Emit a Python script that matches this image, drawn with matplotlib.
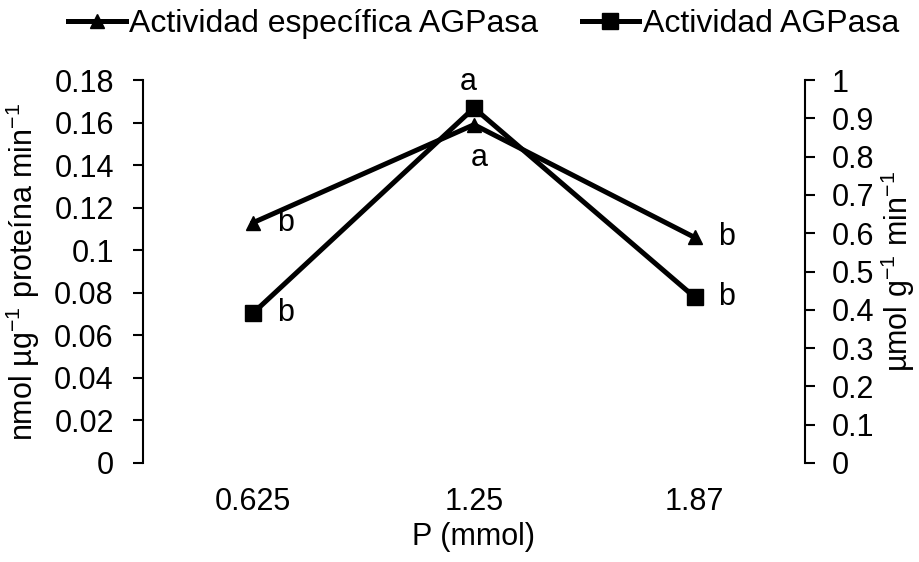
import matplotlib
matplotlib.use("Agg")
import matplotlib.pyplot as plt

plt.rcParams['font.family'] = ['Liberation Sans', 'DejaVu Sans']
plt.rcParams['mathtext.fontset'] = 'custom'
plt.rcParams['mathtext.rm'] = 'Liberation Sans'
plt.rcParams['mathtext.it'] = 'Liberation Sans:italic'
plt.rcParams['mathtext.bf'] = 'Liberation Sans:bold'
plt.rcParams['axes.unicode_minus'] = False

categories = ["0.625", "1.25", "1.87"]
specific_activity = [0.113, 0.159, 0.106]   # left axis, triangles
activity = [0.392, 0.927, 0.433]            # right axis, squares
spec_letters = ["b", "a", "b"]
act_letters = ["b", "a", "b"]
left_ticks = [0, 0.02, 0.04, 0.06, 0.08, 0.1, 0.12, 0.14, 0.16, 0.18]
right_ticks = [0, 0.1, 0.2, 0.3, 0.4, 0.5, 0.6, 0.7, 0.8, 0.9, 1]

FS = 22

fig = plt.figure(figsize=(9.2, 5.62), dpi=100)
ax = fig.add_axes([143/920, 1-463/562, 662/920, 383/562])
ax2 = ax.twinx()

x = list(range(len(categories)))
l1, = ax.plot(x, specific_activity, color='black', lw=3.6, marker='^', ms=10,
              label='Actividad específica AGPasa', zorder=3)
l2, = ax2.plot(x, activity, color='black', lw=3.6, marker='s', ms=11,
               label='Actividad AGPasa', zorder=3)

ax.set_xlim(-0.5, len(categories) - 0.5)
ax.set_ylim(0, 0.18)
ax2.set_ylim(0, 1)
ax.set_xticks(x)
ax.set_xticklabels(categories)
ax.set_yticks(left_ticks)
ax.set_yticklabels([f"{v:g}" for v in left_ticks])
ax2.set_yticks(right_ticks)
ax2.set_yticklabels([f"{v:g}" for v in right_ticks])

for a in (ax, ax2):
    for s in ('top', 'bottom'):
        a.spines[s].set_visible(False)
ax.spines['right'].set_visible(False)
ax2.spines['left'].set_visible(False)
ax.spines['left'].set_linewidth(1.5)
ax2.spines['right'].set_linewidth(1.5)

ax.tick_params(axis='y', direction='out', length=7, width=1.5, labelsize=FS, pad=14)
ax2.tick_params(axis='y', direction='out', length=7, width=1.5, labelsize=FS, pad=12)
ax.tick_params(axis='x', length=0, labelsize=FS, pad=17)

ax.set_xlabel('P (mmol)', fontsize=FS)
ax.xaxis.set_label_coords(0.5, -0.155)
ax.set_ylabel('nmol µg$^{-1}$ proteína min$^{-1}$', fontsize=FS)
ax.yaxis.set_label_coords(-0.153, 0.5)
ax2.set_ylabel('µmol g$^{-1}$ min$^{-1}$', fontsize=FS, rotation=90)
ax2.yaxis.set_label_coords(1.112, 0.5)

# significance letters
for i, (v, t) in enumerate(zip(specific_activity, spec_letters)):
    off = (4, -24) if i == 1 else (23, 0)
    ax.annotate(t, (i, v), xytext=off, textcoords='offset points',
                ha='center', va='center', fontsize=FS)
for i, (v, t) in enumerate(zip(activity, act_letters)):
    off = (-4, 19) if i == 1 else (23, 0)
    ax2.annotate(t, (i, v), xytext=off, textcoords='offset points',
                 ha='center', va='center', fontsize=FS)

fig.legend(handles=[l1, l2], loc='center left', bbox_to_anchor=(68/920, 1-24/562),
           ncol=2, frameon=False, fontsize=23, handlelength=1.8, handletextpad=0.12,
           columnspacing=1.35, borderpad=0, borderaxespad=0, numpoints=1)

fig.savefig('out.png', dpi=100)
